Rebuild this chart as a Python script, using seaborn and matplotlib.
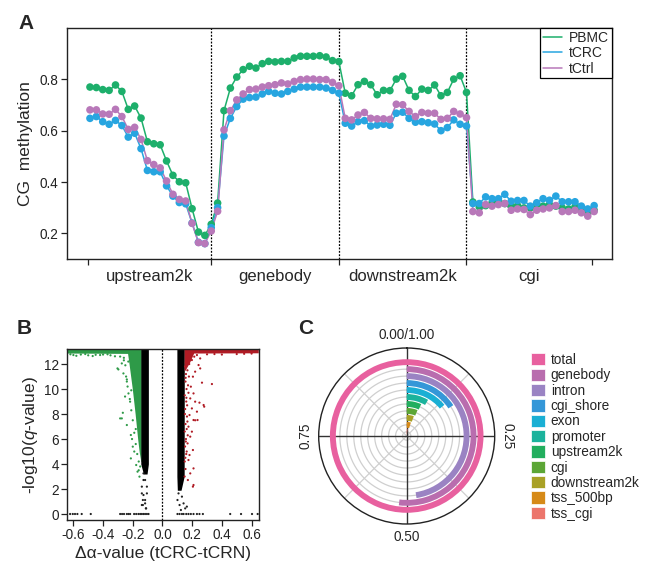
import numpy as np
import pandas as pd
import matplotlib
matplotlib.use("Agg")
import matplotlib.pyplot as plt
import seaborn as sns
from matplotlib.patches import Patch


# ---- Panel A: CG methylation, 20 bins per region ----
regions = ["upstream2k", "genebody", "downstream2k", "cgi"]
samples = ["PBMC", "tCRC", "tCtrl"]
sample_colors = ["#1DAF6B", "#27A5E0", "#B878B9"]

pbmc_up = [0.770, 0.768, 0.760, 0.757, 0.778, 0.753, 0.683, 0.696, 0.649, 0.557,
           0.549, 0.545, 0.482, 0.426, 0.401, 0.397, 0.296, 0.205, 0.192, 0.235]
tcrc_up = [0.648, 0.655, 0.635, 0.625, 0.640, 0.620, 0.575, 0.590, 0.530, 0.445,
           0.440, 0.440, 0.385, 0.345, 0.320, 0.315, 0.240, 0.165, 0.160, 0.222]
tctrl_up = [0.681, 0.681, 0.665, 0.664, 0.683, 0.655, 0.605, 0.613, 0.566, 0.483,
            0.468, 0.455, 0.404, 0.352, 0.332, 0.326, 0.239, 0.164, 0.160, 0.209]

pbmc_gb = [0.318, 0.678, 0.766, 0.809, 0.838, 0.851, 0.844, 0.861, 0.870, 0.868,
           0.870, 0.870, 0.883, 0.890, 0.890, 0.890, 0.892, 0.887, 0.873, 0.869]
tcrc_gb = [0.300, 0.579, 0.648, 0.694, 0.723, 0.729, 0.731, 0.743, 0.753, 0.746,
           0.743, 0.753, 0.762, 0.770, 0.770, 0.770, 0.770, 0.766, 0.757, 0.746]
tctrl_gb = [0.286, 0.603, 0.678, 0.720, 0.743, 0.760, 0.762, 0.770, 0.775, 0.779,
            0.786, 0.782, 0.792, 0.799, 0.801, 0.801, 0.799, 0.799, 0.788, 0.775]

pbmc_down = [0.746, 0.736, 0.779, 0.792, 0.779, 0.740, 0.757, 0.756, 0.801, 0.812,
             0.757, 0.733, 0.762, 0.757, 0.778, 0.736, 0.749, 0.801, 0.814, 0.749]
tcrc_down = [0.629, 0.618, 0.635, 0.639, 0.618, 0.622, 0.625, 0.621, 0.668, 0.672,
             0.648, 0.633, 0.635, 0.631, 0.626, 0.600, 0.612, 0.642, 0.625, 0.618]
tctrl_down = [0.648, 0.642, 0.661, 0.671, 0.648, 0.646, 0.646, 0.644, 0.703, 0.701,
              0.675, 0.655, 0.671, 0.668, 0.668, 0.644, 0.648, 0.675, 0.665, 0.651]

pbmc_cgi = [0.322, 0.303, 0.308, 0.319, 0.325, 0.316, 0.306, 0.308, 0.299, 0.299,
            0.312, 0.306, 0.312, 0.306, 0.299, 0.295, 0.303, 0.295, 0.280, 0.290]
tcrc_cgi = [0.316, 0.316, 0.342, 0.335, 0.335, 0.352, 0.325, 0.328, 0.328, 0.306,
            0.319, 0.335, 0.329, 0.345, 0.323, 0.323, 0.323, 0.306, 0.295, 0.308]
tctrl_cgi = [0.285, 0.280, 0.312, 0.306, 0.312, 0.316, 0.290, 0.295, 0.293, 0.273,
             0.290, 0.295, 0.299, 0.308, 0.285, 0.285, 0.290, 0.280, 0.267, 0.285]

# region boundaries in bin units
region_edges = [-0.3, 19, 39, 59, 78.7]


# ---- Panel B: volcano, dense clouds as outlines + sparse points ----
b_xticks = [-0.6, -0.4, -0.2, 0.0, 0.2, 0.4, 0.6]
b_yticks = [0, 2, 4, 6, 8, 10, 12]

green_v = [13.2, 12.88, 12.85, 12.0, 10.0, 8.0, 6.0, 5.0, 4.2]
green_left = [-0.645, -0.645, -0.235, -0.225, -0.203, -0.184, -0.167, -0.157, -0.146]

black_l_v = [13.2, 4.0, 3.2]
black_l_left = [-0.146, -0.146, -0.128]
black_l_right = [-0.095, -0.095, -0.104]

black_r_v = [13.2, 3.0, 1.9]
black_r_left = [0.097, 0.097, 0.1]
black_r_right = [0.147, 0.146, 0.125]

red_top_v = [13.2, 12.9, 12.88, 12.2, 11.5]
red_top_right = [0.645, 0.645, 0.21, 0.185, 0.152]

green_pts_x = [-0.297, -0.274, -0.263, -0.24, -0.285, -0.267, -0.229, -0.218, -0.24,
               -0.213, -0.2, -0.213, -0.177, -0.168, -0.155, -0.285, -0.303, -0.24,
               -0.252, -0.274, -0.6, -0.55, -0.5, -0.45, -0.4, -0.35, -0.32, -0.26,
               -0.2, -0.19, -0.23, -0.21, -0.18, -0.15, -0.16, -0.17, -0.18, -0.19,
               -0.2, -0.21, -0.22, -0.235, -0.245, -0.25, -0.26, -0.16, -0.19, -0.205,
               -0.62, -0.58, -0.52, -0.47, -0.42, -0.37]
green_pts_y = [11.57, 12.05, 11.25, 10.77, 7.65, 8.1, 9.65, 8.99, 7.12,
               6.32, 5.39, 4.45, 3.92, 3.39, 2.99, 12.6, 11.65, 10.6,
               9.4, 7.65, 12.72, 12.76, 12.7, 12.74, 12.76, 12.7, 12.62, 12.3,
               11.8, 10.8, 12.2, 9.9, 6.8, 3.8, 4.2, 4.8, 5.6, 6.5,
               7.5, 8.3, 9.2, 10.2, 11.0, 11.9, 12.5, 3.5, 5.0, 6.0,
               12.78, 12.66, 12.8, 12.64, 12.72, 12.78]

red_pts_x = [0.182, 0.198, 0.214, 0.232, 0.254, 0.243, 0.254, 0.22, 0.205, 0.266,
             0.333, 0.191, 0.209, 0.187, 0.22, 0.249, 0.277, 0.198, 0.232, 0.182,
             0.209, 0.236, 0.175, 0.198, 0.187, 0.169, 0.205, 0.182, 0.175, 0.209,
             0.187, 0.171, 0.205, 0.281, 0.22, 0.209, 0.3, 0.35, 0.4, 0.5, 0.55, 0.6,
             0.152, 0.158, 0.155, 0.162, 0.15, 0.16, 0.153, 0.165, 0.155, 0.15,
             0.158, 0.152, 0.16, 0.15, 0.155, 0.149, 0.168, 0.172, 0.166, 0.17,
             0.163, 0.175, 0.178, 0.168, 0.157, 0.165, 0.175, 0.18, 0.156, 0.161,
             0.151, 0.163, 0.157, 0.154]
red_pts_y = [12.72, 12.32, 12.59, 12.72, 12.45, 11.92, 11.65, 11.39, 10.99, 10.51,
             10.4, 10.19, 9.65, 9.25, 8.99, 8.91, 8.72, 8.45, 8.19, 7.92,
             7.52, 7.52, 6.99, 6.59, 6.19, 5.65, 5.12, 4.72, 4.32, 3.65,
             3.25, 2.72, 2.19, 8.59, 7.5, 2.32, 12.78, 12.8, 12.76, 12.8, 12.82, 12.84,
             11.8, 11.2, 10.6, 10.0, 9.5, 9.0, 8.4, 7.8, 7.2, 6.6,
             6.0, 5.4, 4.8, 4.2, 3.6, 3.0, 11.5, 10.3, 8.7, 6.3,
             5.0, 9.7, 11.0, 7.4, 12.1, 12.4, 12.6, 12.0, 10.9, 9.3,
             8.0, 6.8, 5.8, 4.5]

black_pts_x = [-0.128, -0.117, -0.139, -0.105, -0.128, -0.132, -0.117, -0.139, -0.11,
               -0.128, -0.105, -0.139, -0.117, -0.132, -0.112,
               0.108, 0.131, 0.101, 0.142, 0.115, 0.164, 0.153, 0.124,
               -0.622, -0.604, -0.589, -0.573, -0.544, -0.483, -0.285, -0.272, -0.259,
               -0.24, -0.229, -0.218, -0.191, -0.177, -0.162, -0.15, -0.139, -0.128,
               -0.117, -0.105, -0.094,
               0.101, 0.115, 0.131, 0.142, 0.16, 0.175, 0.191, 0.209, 0.232, 0.249,
               0.272, 0.456, 0.529, 0.603, 0.641]
black_pts_y = [3.25, 2.72, 2.19, 1.65, 1.52, 1.12, 0.85, 0.72, 0.45,
               2.72, 2.19, 1.65, 1.12, 0.72, 0.45,
               1.65, 1.39, 1.12, 0.85, 0.72, 0.59, 0.45, 0.32,
               0, 0, 0, 0, 0, 0, 0, 0, 0,
               0, 0, 0, 0, 0, 0, 0, 0, 0,
               0, 0, 0,
               0, 0, 0, 0, 0, 0, 0, 0, 0, 0,
               0, 0, 0, 0, 0]


# ---- Panel C: fraction per feature (radial bars) ----
c_features = ["total", "genebody", "intron", "cgi_shore", "exon", "promoter",
              "upstream2k", "cgi", "downstream2k", "tss_500bp", "tss_cgi"]
c_fraction = [1.0, 0.518, 0.475, 0.157, 0.14, 0.085, 0.068, 0.063, 0.055, 0.048, 0.02]
c_colors = ["#E8609F", "#B96DAE", "#9A83C3", "#3497D8", "#1AAFD4", "#1BB39C",
            "#22AE5E", "#5CA636", "#A9A126", "#D68A18", "#EC756B"]
c_theta_labels = ["0.00/1.00", "0.25", "0.50", "0.75"]


sns.set_style("ticks")
plt.rcParams["font.family"] = ["Liberation Sans", "DejaVu Sans"]
plt.rcParams["mathtext.fontset"] = "custom"
plt.rcParams["mathtext.it"] = "Liberation Sans:italic"
plt.rcParams["mathtext.rm"] = "Liberation Sans"
plt.rcParams["axes.unicode_minus"] = False

W, H = 650, 564
fig = plt.figure(figsize=(W / 100, H / 100), dpi=100)


def px_box(left, top, right, bottom):
    return [left / W, 1 - bottom / H, (right - left) / W, (bottom - top) / H]


# ================= Panel A =================
rows = []
series = {
    "PBMC": [pbmc_up, pbmc_gb, pbmc_down, pbmc_cgi],
    "tCRC": [tcrc_up, tcrc_gb, tcrc_down, tcrc_cgi],
    "tCtrl": [tctrl_up, tctrl_gb, tctrl_down, tctrl_cgi],
}
for name in samples:
    vals = np.concatenate(series[name])
    for k, v in enumerate(vals):
        rows.append((name, k, v))
df_a = pd.DataFrame(rows, columns=["sample", "bin", "meth"])

ax_a = fig.add_axes(px_box(67, 28, 612, 259))
sns.lineplot(data=df_a, x="bin", y="meth", hue="sample", hue_order=samples,
             palette=sample_colors, errorbar=None, linewidth=1.1, ax=ax_a)
sns.scatterplot(data=df_a, x="bin", y="meth", hue="sample", hue_order=samples,
                palette=sample_colors, s=30, linewidth=0, legend=False, ax=ax_a,
                zorder=3)

for e in region_edges[1:4]:
    ax_a.axvline(e, color="black", lw=0.9, ls=(0, (1.5, 1.2)), zorder=1)

ax_a.set_xlim(-3.6, 81.8)
ax_a.set_ylim(0.1, 1.0)
ax_a.set_yticks([0.2, 0.4, 0.6, 0.8])
ax_a.set_xticks(region_edges)
ax_a.set_xticklabels([])
mids = [(region_edges[i] + region_edges[i + 1]) / 2 for i in range(4)]
ax_a.set_xticks(mids, minor=True)
ax_a.set_xticklabels(regions, minor=True, fontsize=12)
ax_a.tick_params(axis="x", which="minor", length=0, pad=7.5)
ax_a.tick_params(axis="both", which="major", length=4.5, width=0.9,
                 colors="#222222", labelsize=9.8, pad=1.5)
ax_a.set_xlabel("")
ax_a.set_ylabel("CG  methylation", fontsize=12.5, labelpad=5)
for sp in ax_a.spines.values():
    sp.set_visible(True)
    sp.set_linewidth(1.0)
    sp.set_color("#222222")

handles, labels = ax_a.get_legend_handles_labels()
ax_a.legend(handles, labels, loc="upper right", bbox_to_anchor=(1, 1),
            borderaxespad=0, frameon=True, fancybox=False, edgecolor="black",
            framealpha=1, fontsize=10, handlelength=1.4, labelspacing=0.1,
            borderpad=0.2, handletextpad=0.5, title=None)
ax_a.get_legend().get_frame().set_linewidth(0.9)

fig.text(18 / W, 1 - 29 / H, "A", fontsize=15, fontweight="bold")


# ================= Panel B =================
ax_b = fig.add_axes(px_box(66.7, 349.3, 259, 520))

ax_b.fill_betweenx(green_v, green_left, -0.143, color="#2E9A48", lw=0, zorder=2)
ax_b.fill_betweenx(black_l_v, black_l_left, black_l_right, color="black", lw=0, zorder=2)
ax_b.fill_betweenx(black_r_v, black_r_left, black_r_right, color="black", lw=0, zorder=2)
ax_b.fill_betweenx(red_top_v, 0.146, red_top_right, color="#B01C25", lw=0, zorder=2)

pts = pd.DataFrame({
    "dx": green_pts_x + red_pts_x + black_pts_x,
    "q": green_pts_y + red_pts_y + black_pts_y,
    "grp": ["down"] * len(green_pts_x) + ["up"] * len(red_pts_x)
           + ["ns"] * len(black_pts_x),
})
sns.scatterplot(data=pts, x="dx", y="q", hue="grp",
                palette={"down": "#2E9A48", "up": "#B01C25", "ns": "#222222"},
                s=2.5, linewidth=0, legend=False, ax=ax_b, zorder=3)

ax_b.axvline(0, color="black", lw=0.9, ls=(0, (1.5, 1.2)), zorder=1)
ax_b.set_xlim(-0.645, 0.65)
ax_b.set_ylim(-0.48, 13.18)
ax_b.set_xticks(b_xticks)
ax_b.set_xticklabels([f"{t:.1f}" for t in b_xticks])
ax_b.set_yticks(b_yticks)
ax_b.tick_params(axis="both", length=4, width=0.9, colors="#222222",
                 labelsize=9.8, pad=1.5)
ax_b.set_xlabel("Δα-value (tCRC-tCRN)", fontsize=12.5, labelpad=3)
ax_b.set_ylabel(r"-log10($\mathit{q}$-value)", fontsize=12.5, labelpad=3)
for sp in ax_b.spines.values():
    sp.set_visible(True)
    sp.set_linewidth(1.0)
    sp.set_color("#222222")

fig.text(17 / W, 1 - 334 / H, "B", fontsize=15, fontweight="bold")


# ================= Panel C =================
cx, cy, R = 406.7, 436, 88
ax_c = fig.add_axes(px_box(cx - R, cy - R, cx + R, cy + R), projection="polar")
ax_c.set_theta_zero_location("N")
ax_c.set_theta_direction(-1)
r_top = 0.4 + 11.2 * R / 78.0
ax_c.set_ylim(0.4, r_top)
ax_c.grid(False)
ax_c.set_xticks([])
ax_c.set_yticks([])
ax_c.set_facecolor("white")

full = np.linspace(0, 2 * np.pi, 361)
for r in range(1, len(c_features)):
    ax_c.plot(full, np.full_like(full, r), color="#CFCFCF", lw=0.9, zorder=0)
for a in [45, 135, 225, 315]:
    ax_c.plot([np.radians(a)] * 2, [0.4, r_top], color="#CFCFCF", lw=0.9, zorder=0)
for a in [0, 90, 180, 270]:
    ax_c.plot([np.radians(a)] * 2, [0.4, r_top], color="#333333", lw=1.0, zorder=1)

n = len(c_features)
radial_pos = [n - i for i in range(n)]
ax_c.barh(radial_pos, [f * 2 * np.pi for f in c_fraction], left=0, height=0.85,
          color=c_colors, lw=0, zorder=2)
ax_c.spines["polar"].set_color("#222222")
ax_c.spines["polar"].set_linewidth(1.0)

r_lab = 0.4 + 11.2 * 101 / 78.0
for ang, lab, rot in zip([0, 90, 180, 270], c_theta_labels, [0, -90, 0, 90]):
    ax_c.text(np.radians(ang), r_lab, lab, ha="center", va="center",
              rotation=rot, fontsize=9.8, clip_on=False)

leg_handles = [Patch(facecolor=c, edgecolor="white", lw=0.5, label=l)
               for l, c in zip(c_features, c_colors)]
fig.legend(handles=leg_handles, loc="upper left",
           bbox_to_anchor=(531 / W, 1 - 353 / H), frameon=False, borderpad=0,
           borderaxespad=0, fontsize=9.8, handlelength=1.0, handleheight=1.0,
           labelspacing=0.1, handletextpad=0.45)

fig.text(298 / W, 1 - 334 / H, "C", fontsize=15, fontweight="bold")

fig.savefig("out.png", dpi=100)
plt.close(fig)
